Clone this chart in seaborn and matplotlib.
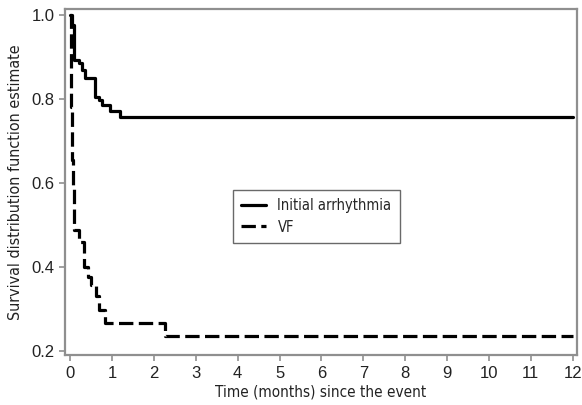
import matplotlib.pyplot as plt
import seaborn as sns
import pandas as pd

# step points (time in months, survival estimate after the step)
arr_time = [0, 0.04, 0.10, 0.20, 0.28, 0.36, 0.60, 0.68, 0.76, 0.95, 1.19, 12]
arr_surv = [1.0, 0.976, 0.893, 0.885, 0.869, 0.849, 0.805, 0.798, 0.786, 0.770, 0.756, 0.756]

vf_time = [0, 0.01, 0.02, 0.03, 0.04, 0.05, 0.07, 0.10, 0.20, 0.33, 0.42, 0.50, 0.62, 0.68, 0.82, 2.27, 12]
vf_surv = [1.0, 0.93, 0.86, 0.78, 0.70, 0.655, 0.59, 0.488, 0.46, 0.40, 0.376, 0.357, 0.33, 0.298, 0.267, 0.236, 0.236]

names = ['Initial arrhythmia', 'VF']

df = pd.DataFrame({
    'time': arr_time + vf_time,
    'surv': arr_surv + vf_surv,
    'group': [names[0]] * len(arr_time) + [names[1]] * len(vf_time),
})

sns.set_style('ticks')
plt.rcParams['font.family'] = ['DejaVu Sans']
plt.rcParams['font.stretch'] = 'condensed'

fig = plt.figure(figsize=(5.82, 4.05), dpi=100)
ax = fig.add_axes([0.112, 0.123, 0.879, 0.855])

sns.lineplot(data=df, x='time', y='surv', hue='group', style='group',
             palette={names[0]: 'black', names[1]: 'black'},
             dashes={names[0]: '', names[1]: (4.5, 1.7)},
             estimator=None, sort=False, drawstyle='steps-post',
             linewidth=2.3, ax=ax)

ax.set_xlim(-0.12, 12.1)
ax.set_ylim(0.19, 1.014)
ax.set_xticks(range(0, 13))
ax.set_yticks([0.2, 0.4, 0.6, 0.8, 1.0])
ax.set_yticklabels(['0.2', '0.4', '0.6', '0.8', '1.0'])

for s in ax.spines.values():
    s.set_visible(True)
    s.set_color('#8f8f8f')
    s.set_linewidth(1.6)
ax.tick_params(colors='#8f8f8f', width=1.2, length=4, labelcolor='#222222')
for lab in ax.get_xticklabels() + ax.get_yticklabels():
    lab.set_family(['Liberation Sans', 'DejaVu Sans'])
    lab.set_stretch('normal')
    lab.set_fontsize(12)

ax.set_xlabel('Time (months) since the event', fontsize=11, color='#222222', labelpad=3)
ax.set_ylabel('Survival distribution function estimate', fontsize=11.5, color='#222222', labelpad=6)

leg = ax.legend(loc='upper left', bbox_to_anchor=(0.328, 0.477), fontsize=10.5,
                frameon=True, fancybox=False, edgecolor='#444444', handlelength=1.7,
                borderpad=0.55, labelspacing=0.45, borderaxespad=0)
leg.get_frame().set_linewidth(1.0)
leg.set_title(None)

fig.savefig('out.png', dpi=100)
